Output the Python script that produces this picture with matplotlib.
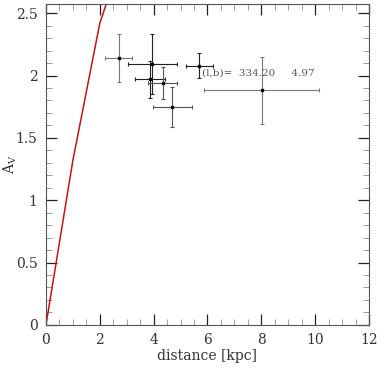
import matplotlib
matplotlib.use("Agg")
import matplotlib.pyplot as plt
from matplotlib.ticker import MultipleLocator

# extinction model curve
model_dist = [0.0, 1.0, 2.0, 3.0]
model_av = [0.0, 1.32, 2.42, 3.06]

# measured points
dist = [2.71, 3.95, 3.87, 4.34, 4.70, 5.70, 8.02]
dist_err = [0.50, 0.92, 0.55, 0.54, 0.71, 0.50, 2.14]
av = [2.14, 2.09, 1.97, 1.94, 1.745, 2.08, 1.88]
av_err = [0.19, 0.24, 0.15, 0.13, 0.16, 0.10, 0.27]
point_colors = ['#777777', '#222222', '#222222', '#555555', '#555555', '#222222', '#777777']

label_text = "(l,b)=  334.20     4.97"

plt.rcParams['font.family'] = ['DejaVu Serif']
plt.rcParams['mathtext.fontset'] = 'dejavuserif'

fig = plt.figure(figsize=(3.8, 3.7), dpi=100)
ax = fig.add_axes([0.121, 0.122, 0.850, 0.866])

ax.plot(model_dist, model_av, color='#cc1111', lw=1.1)

for d, de, a, ae, c in zip(dist, dist_err, av, av_err, point_colors):
    ax.errorbar(d, a, xerr=de, yerr=ae, fmt='s', ms=1.5, color=c,
                mfc='black', mec='black', elinewidth=0.8, capsize=1.2, capthick=0.8)

ax.text(5.8, 2.0, label_text, fontsize=7.5, color='#555555')

ax.set_xlim(0, 12)
ax.set_ylim(0, 2.57)
ax.xaxis.set_major_locator(MultipleLocator(2))
ax.xaxis.set_minor_locator(MultipleLocator(0.5))
ax.yaxis.set_major_locator(MultipleLocator(0.5))
ax.yaxis.set_minor_locator(MultipleLocator(0.1))
ax.xaxis.set_major_formatter(plt.FuncFormatter(lambda v, p: f"{v:g}"))
ax.yaxis.set_major_formatter(plt.FuncFormatter(lambda v, p: f"{v:g}"))

ax.tick_params(which='both', direction='in', top=True, right=True,
               labelsize=10, labelcolor='#333333')
ax.tick_params(which='major', length=8, width=0.9, color='#222222', pad=6)
ax.tick_params(which='minor', length=4, width=0.7, color='#999999')
for s in ax.spines.values():
    s.set_color('#555555')
    s.set_linewidth(0.8)

ax.set_xlabel("distance [kpc]", fontsize=10, color='#333333', labelpad=1)
ax.set_ylabel(r"A$_\mathrm{V}$", fontsize=10, color='#333333')
ax.yaxis.set_label_coords(-0.085, 0.5)

fig.savefig("out.png", dpi=100)
